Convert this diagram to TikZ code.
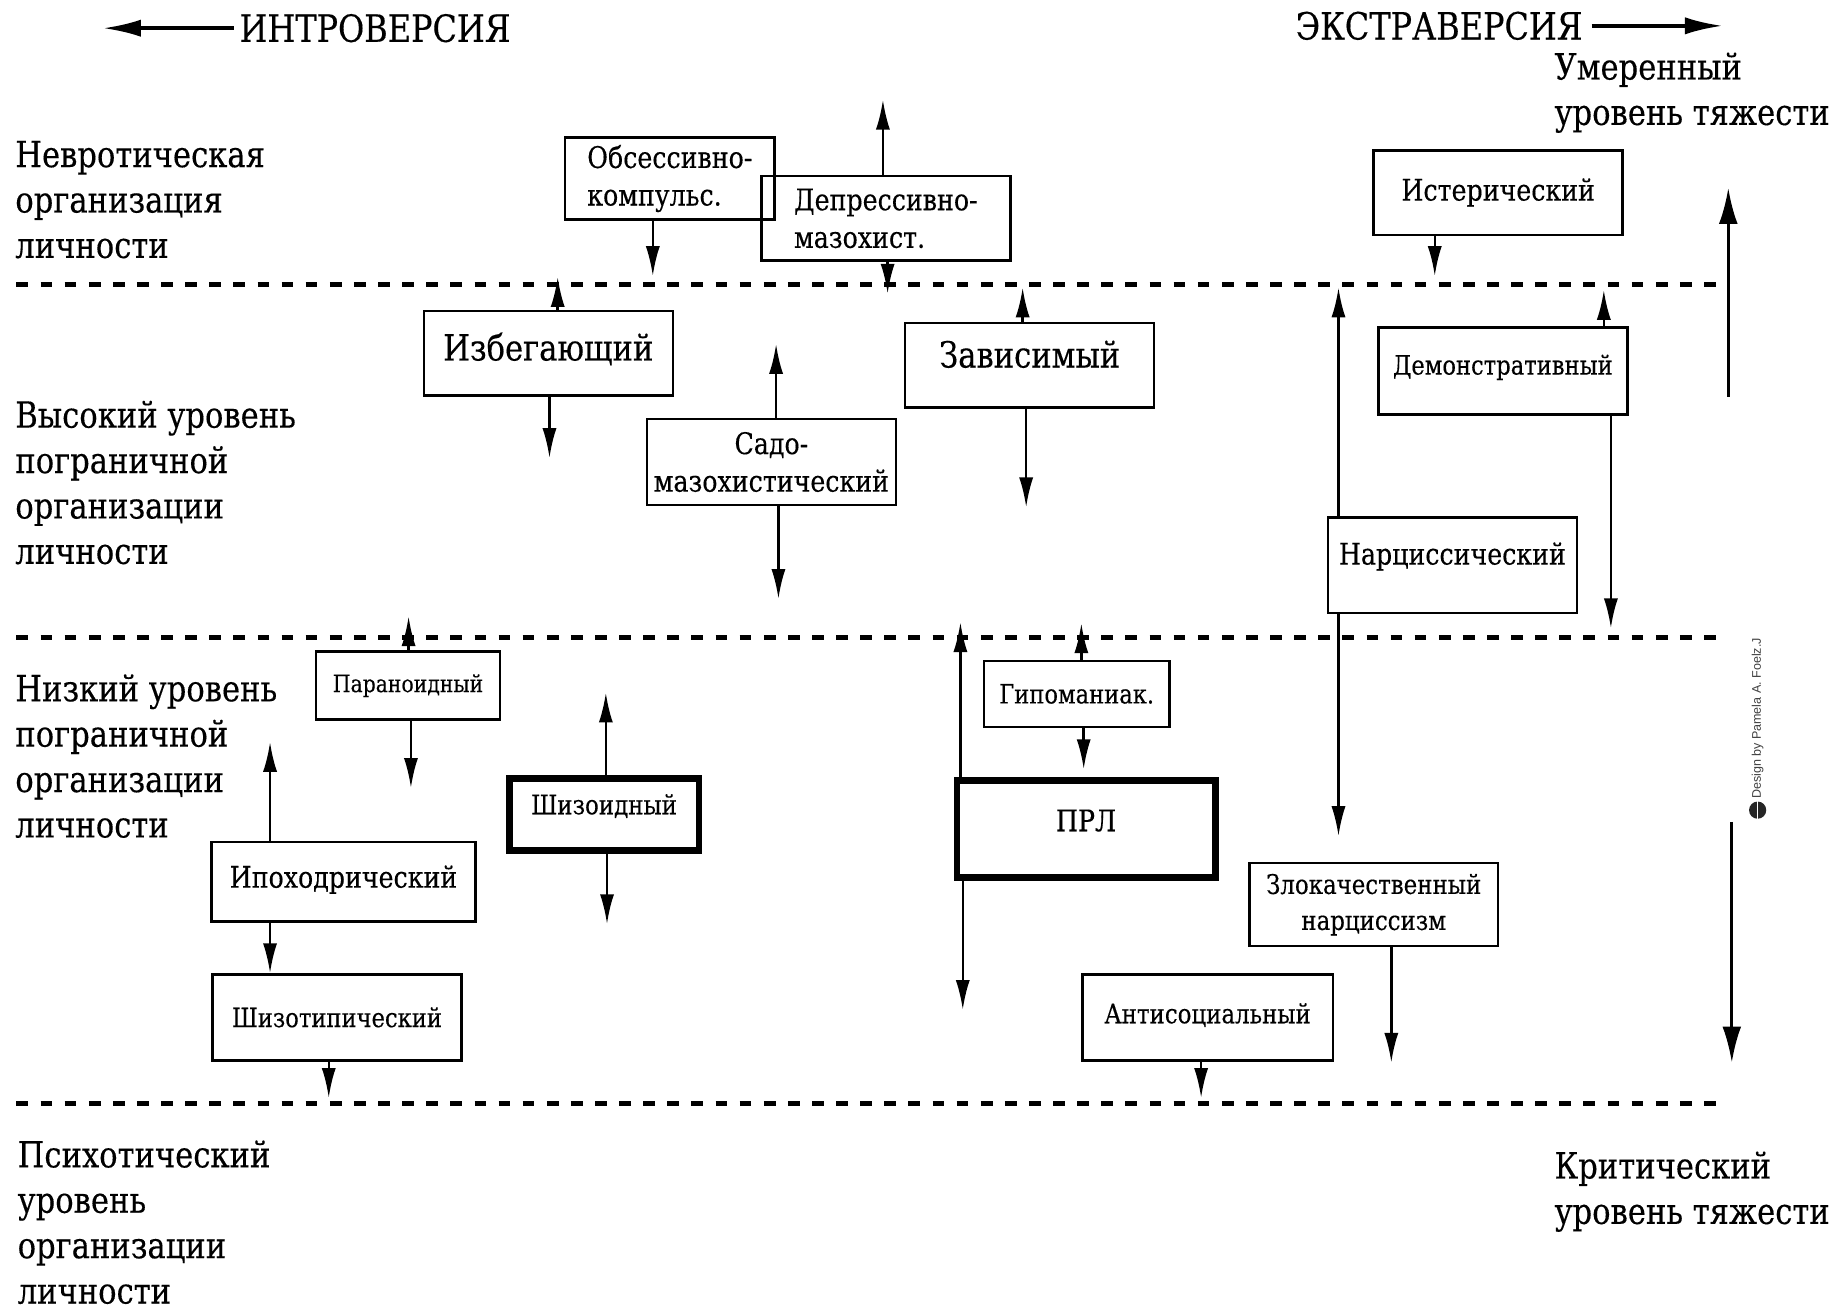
\documentclass[tikz,border=0pt]{standalone}
\usepackage{fontspec}
\setmainfont{DejaVu Serif}[FakeStretch=0.85,FakeBold=0.3]
\newfontfamily\creditfont{Liberation Sans}
\usetikzlibrary{arrows.meta}

\tikzset{every picture/.style={line width=1.6pt}}
\tikzset{
  levelline/.style={line width=3.3pt, dash pattern={on 7.5pt off 7.9pt}},
  leveltext/.style={anchor=west, inner sep=0pt, align=left, font=\fontsize{23}{29}\selectfont},
  axistext/.style={leveltext, font=\fontsize{24}{28}\selectfont},
  typebox/.style={draw, line width=1.6pt, inner sep=0pt, minimum width=159pt, minimum height=54pt, font=\fontsize{19}{24}\selectfont},
  bigbox/.style={typebox, font=\fontsize{23}{28}\selectfont},
  smallbox/.style={typebox, font=\fontsize{17}{22}\selectfont},
  heavybox/.style={typebox, line width=4.2pt},
  raisetext/.style={text height=14pt, text depth=#1},
  movearrow/.style={-{Latex[length=19pt,width=9pt]}, line width=1.6pt},
  sevarrow/.style={-{Latex[length=23pt,width=12pt]}, line width=2pt},
  dirarrow/.style={-{Latex[length=24pt,width=11pt]}, line width=2.2pt}
}

\begin{document}
\begin{tikzpicture}[x=0.75pt,y=0.75pt,yscale=-1,xscale=1]
\useasboundingbox (0,0) rectangle (1568,1115);

%Dashed level lines
\draw [levelline] (14,242) -- (1465,242) ;
\draw [levelline] (14,543) -- (1465,543) ;
\draw [levelline] (14,940) -- (1465,940) ;

% Axis titles
\node [axistext] (intro) at (203,24) {ИНТРОВЕРСИЯ};
\node [axistext, anchor=east] (extra) at (1349,22) {ЭКСТРАВЕРСИЯ};
\coordinate (introTip) at (88,24);
\coordinate (extraTip) at (1467,22);
\draw [dirarrow] ([xshift=-3pt]intro.west) -- (introTip) ;
\draw [dirarrow] ([xshift=5pt]extra.east) -- (extraTip) ;

% Level labels
\node [leveltext] (nevr) at (12,170) {Невротическая\\организация\\личности};
\node [leveltext] (vysok) at (12,411) {Высокий уровень\\пограничной\\организации\\личности};
\node [leveltext] (nizk) at (12,644) {Низкий уровень\\пограничной\\организации\\личности};
\node [leveltext] (psih) at (14,1041) {Психотический\\уровень\\организации\\личности};
\node [leveltext] (umer) at (1323,79) {Умеренный\\уровень тяжести};
\node [leveltext] (krit) at (1323,1015) {Критический\\уровень тяжести};

% Severity arrows
\coordinate (sevUpA) at (1472,338);
\coordinate (sevUpB) at (1472,160);
\coordinate (sevDnA) at (1475,700);
\coordinate (sevDnB) at (1475,905);
\draw [sevarrow] (sevUpA) -- (sevUpB) ;
\draw [sevarrow] (sevDnA) -- (sevDnB) ;

% Neurotic level
\node [typebox, minimum width=134pt, minimum height=52.5pt, align=left] (obses) at (570.5,152) {Обсессивно-\\компульс.};
\node [typebox, minimum height=54pt, align=left] (depres) at (754.5,186) {Депрессивно-\\мазохист.};
\node [typebox] (ister) at (1276,164) {Истерический};

% High borderline level
\node [bigbox, raisetext=5pt] (izbeg) at (467,301) {Избегающий};
\node [typebox, minimum height=55pt, align=center] (sado) at (657,393.5) {Садо-\\мазохистический};
\node [bigbox, raisetext=11pt] (zavis) at (877,311) {Зависимый};
\node [typebox, minimum height=55.5pt, font=\fontsize{17}{22}\selectfont, raisetext=9.5pt] (demon) at (1280,316) {Демонстративный};
\node [typebox, minimum height=61pt, raisetext=15pt] (narc) at (1237,481.5) {Нарциссический};

% Low borderline level
\node [smallbox, minimum width=117.75pt, minimum height=43.5pt, font=\fontsize{15.3}{20}\selectfont] (paran) at (347.5,584) {Параноидный};
\node [heavybox, minimum width=121pt, minimum height=46pt, font=\fontsize{17.2}{22}\selectfont, raisetext=14pt] (shizo) at (514.5,693.5) {Шизоидный};
\node [typebox, minimum width=168.75pt, minimum height=51pt, raisetext=6.5pt] (ipoh) at (292.5,751) {Ипоходрический};
\node [typebox, minimum height=55pt, font=\fontsize{17}{22}\selectfont] (shizt) at (287,866.5) {Шизотипический};
\node [smallbox, minimum width=118.5pt, minimum height=42pt] (gipom) at (917,591) {Гипоманиак.};
\node [heavybox, minimum width=165pt, minimum height=62pt, raisetext=11pt] (prl) at (925,706) {ПРЛ};
\node [typebox, minimum height=53pt, align=center, font=\fontsize{17.2}{23}\selectfont] (zlok) at (1170,770.5) {Злокачественный\\нарциссизм};
\node [typebox, minimum width=160pt, minimum height=55pt, font=\fontsize{17.2}{22}\selectfont, raisetext=6.5pt] (antis) at (1028.5,866.5) {Антисоциальный};

% Arrow ends
\coordinate (obsD) at (556,235);
\coordinate (depU) at (752,85);
\coordinate (depD) at (756,250);
\coordinate (istD) at (1222,235);
\coordinate (izbU) at (475,236);
\coordinate (izbD) at (468,390);
\coordinate (sadU) at (661,293);
\coordinate (sadD) at (663,510);
\coordinate (zavU) at (871,245);
\coordinate (zavD) at (874,432);
\coordinate (demU) at (1366,247);
\coordinate (demD) at (1372,535);
\coordinate (narU) at (1140,245);
\coordinate (narD) at (1140,712);
\coordinate (parU) at (348,525);
\coordinate (parD) at (350,671);
\coordinate (shzU) at (516,590);
\coordinate (shzD) at (517,787);
\coordinate (ipoU) at (230,632);
\coordinate (ipoD) at (230,0);
\coordinate (sztD) at (280,935);
\coordinate (gipU) at (921,531);
\coordinate (gipD) at (923,655);
\coordinate (prlU) at (818,530);
\coordinate (prlD) at (820,860);
\coordinate (zloD) at (1185,905);
\coordinate (antD) at (1023,935);

% Arrows
\draw [movearrow] (obsD |- obses.south) -- (obsD) ;
\draw [movearrow] (depU |- depres.north) -- (depU) ;
\draw [movearrow] (depD |- depres.south) -- (depD) ;
\draw [movearrow] (istD |- ister.south) -- (istD) ;
\draw [movearrow] (izbU |- izbeg.north) -- (izbU) ;
\draw [movearrow] (izbD |- izbeg.south) -- (izbD) ;
\draw [movearrow] (sadU |- sado.north) -- (sadU) ;
\draw [movearrow] (sadD |- sado.south) -- (sadD) ;
\draw [movearrow] (zavU |- zavis.north) -- (zavU) ;
\draw [movearrow] (zavD |- zavis.south) -- (zavD) ;
\draw [movearrow] (demU |- demon.north) -- (demU) ;
\draw [movearrow] (demD |- demon.south) -- (demD) ;
\draw [movearrow] (narU |- narc.north) -- (narU) ;
\draw [movearrow] (narD |- narc.south) -- (narD) ;
\draw [movearrow] (parU |- paran.north) -- (parU) ;
\draw [movearrow] (parD |- paran.south) -- (parD) ;
\draw [movearrow] (shzU |- shizo.north) -- (shzU) ;
\draw [movearrow] (shzD |- shizo.south) -- (shzD) ;
\draw [movearrow] (ipoU |- ipoh.north) -- (ipoU) ;
\draw [movearrow] (ipoD |- ipoh.south) -- (ipoD |- shizt.north) ;
\draw [movearrow] (sztD |- shizt.south) -- (sztD) ;
\draw [movearrow] (gipU |- gipom.north) -- (gipU) ;
\draw [movearrow] (gipD |- gipom.south) -- (gipD) ;
\draw [movearrow] (prlU |- prl.north) -- (prlU) ;
\draw [movearrow] (prlD |- prl.south) -- (prlD) ;
\draw [movearrow] (zloD |- zlok.south) -- (zloD) ;
\draw [movearrow] (antD |- antis.south) -- (antD) ;

% Credit
\node [rotate=90, inner sep=0pt, text=black!75, font=\creditfont\fontsize{8}{9}\selectfont] (credit) at (1497,612) {Design by Pamela A. Foelz.J};
\node [circle, fill=black!85, minimum size=11pt, inner sep=0pt] (logo) at (1497,690) {};
\draw [white, line width=0.8pt] (logo.north) -- (logo.south) ;

\end{tikzpicture}
\end{document}
